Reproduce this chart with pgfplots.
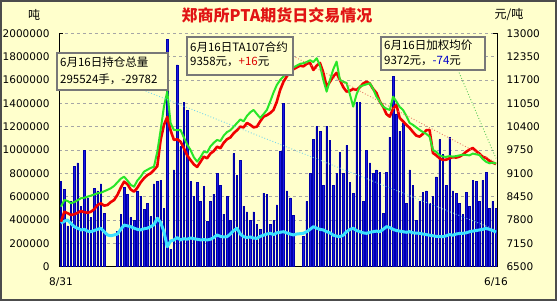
\documentclass[border=0pt]{standalone}
\usepackage{pgfplots}
\pgfplotsset{compat=1.18}
\usepackage{fontspec}
\setmainfont{DejaVu Sans}
\newfontfamily\cjk{Noto Sans CJK SC}
\definecolor{bg}{RGB}{255,255,204}
\definecolor{titlered}{RGB}{225,20,20}
\definecolor{barfill}{RGB}{25,25,225}
\definecolor{bardraw}{RGB}{0,0,170}
\definecolor{cyanline}{RGB}{60,225,255}
\definecolor{redline}{RGB}{240,0,0}
\definecolor{greenline}{RGB}{40,230,40}
\definecolor{boxgray}{RGB}{120,120,120}
\definecolor{numred}{RGB}{220,0,0}
\definecolor{numblue}{RGB}{0,0,200}
\begin{document}
\begin{tikzpicture}[x=1pt,y=1pt]
\fill[bg] (0,0) rectangle (557,301);
\useasboundingbox (0,0) rectangle (557,301);
\draw[line width=1.6pt, black!70] (0.8,0.8) rectangle (556.2,300.2);
\begin{axis}[
  at={(59pt,34.3pt)}, anchor=south west, scale only axis,
  width=438pt, height=233.4pt,
  xmin=-0.6, xmax=131.3, ymin=0, ymax=2000000,
  axis x line*=bottom, axis y line*=left,
  axis line style={black, line width=0.8pt, -},
  xtick={0,131}, xticklabels={8/31,6/16},
  ytick={0,200000,400000,600000,800000,1000000,1200000,1400000,1600000,1800000,2000000},
  scaled y ticks=false,
  yticklabel style={/pgf/number format/fixed, /pgf/number format/1000 sep={}, xshift=-6pt},
  xticklabel style={yshift=-7pt},
  /pgf/number format/assume math mode=true,
  tick label style={font=\fontsize{10.5}{12}\selectfont, text=black},
  major tick length=0pt,
  ymajorgrids, grid style={dashed, black!35, line width=0.6pt},
  clip=false,
]
\addplot[ybar, bar width=1.5pt, fill=barfill, draw=bardraw, line width=0.5pt] coordinates {
(0,730000)(1,660000)(2,350000)(3,560000)(4,860000)(5,890000)(6,520000)(7,1000000)(8,590000)(9,420000)
(10,670000)(11,650000)(12,710000)(13,460000)(17,300000)(18,450000)(19,680000)
(20,620000)(21,420000)(22,400000)(23,650000)(24,600000)(25,490000)(26,540000)(27,430000)(28,710000)(29,730000)
(30,740000)(31,500000)(32,1950000)(33,150000)(34,830000)(35,1730000)(36,1030000)(37,1410000)(38,1340000)(39,730000)
(40,600000)(41,720000)(42,560000)(43,690000)(44,390000)(45,560000)(46,620000)(47,800000)(48,700000)(49,450000)
(50,600000)(51,400000)(52,970000)(53,780000)(54,910000)(55,520000)(56,470000)(57,400000)(58,470000)(59,360000)
(60,320000)(61,630000)(62,620000)(63,360000)(64,400000)(65,530000)(66,990000)(67,1400000)(68,650000)(69,590000)
(70,440000)(73,260000)(74,560000)(75,800000)(76,1090000)(77,1200000)(78,1160000)(79,700000)
(80,1200000)(81,1080000)(82,700000)(83,800000)(84,980000)(85,800000)(86,1040000)(87,720000)(88,630000)(89,1410000)
(90,1410000)(91,560000)(92,1000000)(93,890000)(94,800000)(95,830000)(96,810000)(97,460000)(98,810000)(99,1110000)
(100,1630000)(101,1310000)(102,1160000)(103,1230000)(104,540000)(105,830000)(106,700000)(107,400000)(108,560000)(109,640000)
(110,650000)(111,540000)(112,600000)(113,770000)(114,1090000)(115,960000)(116,700000)(117,1110000)(118,650000)(119,630000)
(120,540000)(121,450000)(122,640000)(123,520000)(124,740000)(125,730000)(126,560000)(127,740000)(128,810000)(129,500000)
(130,560000)(131,500000)
};
\addplot[cyanline, line width=3pt, line join=round] coordinates {
(0,372000)(1,390000)(2,400000)(3,370000)(4,343000)(5,330000)(6,315000)(7,320000)(8,305000)(9,300000)
(10,310000)(11,320000)(12,329000)(13,300000)(14,272000)(15,265000)(16,272000)(17,280000)(18,320000)(19,357000)
(20,350000)(21,343000)(22,330000)(23,320000)(24,315000)(25,325000)(26,330000)(27,343000)(28,360000)(29,415000)
(30,380000)(31,300000)(32,171000)(33,220000)(34,229000)(35,250000)(36,229000)(37,240000)(38,235000)(39,246000)
(40,240000)(41,235000)(42,230000)(43,232000)(44,229000)(45,235000)(46,250000)(47,272000)(48,260000)(49,255000)
(50,257000)(51,280000)(52,310000)(53,329000)(54,280000)(55,257000)(56,250000)(57,255000)(58,245000)(59,243000)
(60,260000)(61,270000)(62,280000)(63,286000)(64,275000)(65,290000)(66,295000)(67,300000)(68,290000)(69,280000)
(70,272000)(71,280000)(72,283000)(73,286000)(74,300000)(75,320000)(76,343000)(77,330000)(78,320000)(79,315000)
(80,300000)(81,290000)(82,270000)(83,262000)(84,257000)(85,270000)(86,300000)(87,320000)(88,329000)(89,310000)
(90,300000)(91,290000)(92,286000)(93,295000)(94,300000)(95,305000)(96,300000)(97,320000)(98,343000)(99,335000)
(100,320000)(101,310000)(102,305000)(103,300000)(104,295000)(105,300000)(106,290000)(107,288000)(108,286000)(109,280000)
(110,275000)(111,270000)(112,265000)(113,260000)(114,258000)(115,257000)(116,265000)(117,275000)(118,270000)(119,280000)
(120,285000)(121,286000)(122,290000)(123,300000)(124,305000)(125,310000)(126,315000)(127,320000)(128,329000)(129,320000)
(130,310000)(131,296000)
};
\end{axis}
\begin{axis}[
  at={(59pt,34.3pt)}, anchor=south west, scale only axis,
  width=438pt, height=233.4pt,
  xmin=-0.6, xmax=131.3, ymin=6500, ymax=13000,
  axis x line=none, axis y line*=right,
  axis line style={black, line width=0.8pt, -},
  ytick={6500,7150,7800,8450,9100,9750,10400,11050,11700,12350,13000},
  scaled y ticks=false,
  yticklabel style={/pgf/number format/fixed, /pgf/number format/1000 sep={}, xshift=6pt},
  /pgf/number format/assume math mode=true,
  tick label style={font=\fontsize{10.5}{12}\selectfont, text=black},
  major tick length=0pt,
  clip=false,
]
\addplot[redline, line width=2.6pt, line join=round] coordinates {
(0,7754)(1,8030)(2,7990)(3,7940)(4,7960)(5,8000)(6,8050)(7,8020)(8,8000)(9,8030)
(10,8100)(11,8220)(12,8266)(13,8200)(14,8220)(15,8300)(16,8358)(17,8500)(18,8700)(19,8868)
(20,8800)(21,8650)(22,8590)(23,8700)(24,8850)(25,8963)(26,9050)(27,9100)(28,9194)(29,9300)
(30,10030)(31,10448)(32,10671)(33,10300)(34,10030)(35,10050)(36,9983)(37,9800)(38,9600)(39,9470)
(40,9350)(41,9278)(42,9420)(43,9565)(44,9520)(45,9650)(46,9720)(47,9843)(48,9800)(49,9950)
(50,10050)(51,10100)(52,10217)(53,10300)(54,10400)(55,10380)(56,10504)(57,10450)(58,10380)(59,10400)
(60,10550)(61,10679)(62,10720)(63,10780)(64,10866)(65,11100)(66,11423)(67,11650)(68,11800)(69,11933)
(70,12000)(71,12050)(72,12100)(73,12080)(74,12150)(75,12175)(76,11980)(77,12100)(78,12175)(79,11900)
(80,11515)(81,11650)(82,11800)(83,11897)(84,11700)(85,11500)(86,11376)(87,11400)(88,11450)(89,11423)
(90,11500)(91,11600)(92,11654)(93,11600)(94,11450)(95,11339)(96,11100)(97,10958)(98,10750)(99,10679)
(100,10900)(101,11005)(102,10643)(103,10550)(104,10450)(105,10364)(106,10250)(107,10150)(108,10122)(109,10200)
(110,10300)(111,10309)(112,9668)(113,9600)(114,9520)(115,9473)(116,9480)(117,9520)(118,9550)(119,9540)
(120,9565)(121,9620)(122,9700)(123,9760)(124,9807)(125,9720)(126,9650)(127,9560)(128,9528)(129,9450)
(130,9400)(131,9358)
};
\addplot[greenline, line width=2pt, line join=round] coordinates {
(0,8172)(1,8358)(2,8330)(3,8266)(4,8300)(5,8350)(6,8406)(7,8420)(8,8450)(9,8480)
(10,8510)(11,8545)(12,8560)(13,8600)(14,8640)(15,8684)(16,8750)(17,8850)(18,8950)(19,9007)
(20,8900)(21,8780)(22,8729)(23,8900)(24,9007)(25,9147)(26,9200)(27,9250)(28,9286)(29,9700)
(30,10300)(31,10958)(32,11376)(33,10500)(34,10309)(35,10300)(36,10309)(37,10100)(38,9900)(39,9751)
(40,9550)(41,9425)(42,9550)(43,9704)(44,9680)(45,9850)(46,9950)(47,10030)(48,10000)(49,10150)
(50,10250)(51,10300)(52,10400)(53,10500)(54,10600)(55,10550)(56,10700)(57,10800)(58,10866)(59,10750)
(60,10643)(61,10750)(62,10866)(63,11100)(64,11350)(65,11562)(66,11700)(67,11800)(68,11900)(69,11980)
(70,12050)(71,12100)(72,12150)(73,12167)(74,12200)(75,12250)(76,12200)(77,12306)(78,12100)(79,11700)
(80,11376)(81,11700)(82,12000)(83,12211)(84,11701)(85,11650)(86,11618)(87,11300)(88,10958)(89,11300)
(90,11515)(91,11550)(92,11580)(93,11610)(94,11450)(95,11236)(96,11100)(97,10958)(98,10900)(99,10866)
(100,11236)(101,11100)(102,10950)(103,10866)(104,10700)(105,10503)(106,10450)(107,10380)(108,10309)(109,10250)
(110,10200)(111,10122)(112,9751)(113,9700)(114,9600)(115,9565)(116,9560)(117,9580)(118,9565)(119,9580)
(120,9600)(121,9620)(122,9612)(123,9600)(124,9650)(125,9630)(126,9612)(127,9500)(128,9425)(129,9380)
(130,9400)(131,9372)
};
\end{axis}
% top ticks
\draw[black, line width=0.8pt] (59,267.7) -- (63,267.7);
\draw[black, line width=0.8pt] (493,267.7) -- (497,267.7);
% leader lines
\draw[dotted, line width=0.9pt, color={rgb,255:red,120;green,215;blue,235}] (143,211) -- (496,71);
\draw[dotted, line width=0.9pt, color={rgb,255:red,230;green,120;blue,100}] (293,245) -- (495,139);
\draw[dotted, line width=0.9pt, color={rgb,255:red,90;green,200;blue,90}] (458,231) -- (496,142.7);
% title and units
\node[font=\cjk\bfseries\fontsize{16}{18}\selectfont, text=titlered] at (277,286) {郑商所PTA期货日交易情况};
\node[font=\cjk\fontsize{12}{14}\selectfont] at (34,286) {吨};
\node[font=\cjk\fontsize{12}{14}\selectfont] at (509,286) {元/吨};
% boxes
\draw[fill=bg, draw=boxgray, line width=1.5pt] (57,211) rectangle (168,248);
\node[anchor=west, font=\cjk\fontsize{11.5}{13}\selectfont, inner sep=0pt] at (60,239) {6月16日持仓总量};
\node[anchor=west, font=\cjk\fontsize{11.5}{13}\selectfont, inner sep=0pt] at (60,222) {295524手，-29782};
\draw[fill=bg, draw=boxgray, line width=1.5pt] (187,226) rectangle (293,264);
\node[anchor=west, font=\cjk\fontsize{11.5}{13}\selectfont, inner sep=0pt] at (190,254) {6月16日TA107合约};
\node[anchor=west, font=\cjk\fontsize{11.5}{13}\selectfont, inner sep=0pt] at (190,239) {9358元，\textcolor{numred}{+16}元};
\draw[fill=bg, draw=boxgray, line width=1.5pt] (381,231) rectangle (485,264);
\node[anchor=west, font=\cjk\fontsize{11.5}{13}\selectfont, inner sep=0pt] at (384,256) {6月16日加权均价};
\node[anchor=west, font=\cjk\fontsize{11.5}{13}\selectfont, inner sep=0pt] at (384,240) {9372元，\textcolor{numblue}{-74}元};
\end{tikzpicture}
\end{document}
